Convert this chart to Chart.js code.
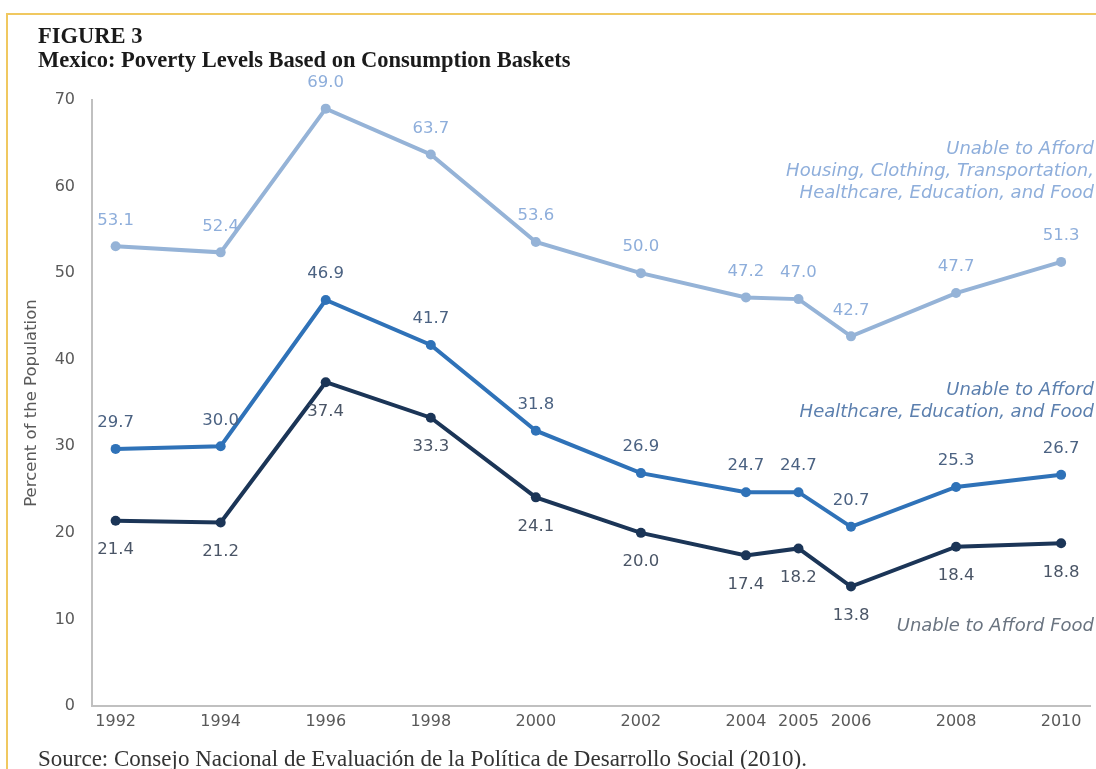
<!DOCTYPE html>
<html>
<head>
<meta charset="utf-8">
<script src="https://cdn.jsdelivr.net/npm/chart.js@4.4.1/dist/chart.umd.min.js"></script>
<style>
  html, body { margin: 0; padding: 0; background: #fff; }
  #page { position: relative; width: 1096px; height: 769px; overflow: hidden; }
  #frame { position: absolute; left: 6px; top: 13px; width: 1100px; height: 800px;
           border-top: 2px solid #f0c860; border-left: 2px solid #f0c860; }
  #chart { position: absolute; left: 0; top: 0; }
  .ttl { position: absolute; left: 38px; font-family: "Liberation Serif", serif; font-weight: bold;
         font-size: 22.5px; color: #1a1a1a; white-space: nowrap; }
  .src { position: absolute; left: 38px; top: 746px; font-family: "Liberation Serif", serif;
         font-size: 23px; color: #333; white-space: nowrap; }
  .note { position: absolute; right: 2px; font-family: "DejaVu Sans", sans-serif; font-style: italic;
          font-size: 18px; line-height: 22px; text-align: right; white-space: nowrap; }
</style>
</head>
<body>
<div id="page">
  <div id="frame"></div>
  <canvas id="chart" width="1096" height="769"></canvas>
  <div class="ttl" style="top:23px;">FIGURE 3</div>
  <div class="ttl" style="top:47px;">Mexico: Poverty Levels Based on Consumption Baskets</div>
  <div class="note" style="top:137px; color:#8eaedb;">Unable to Afford<br>Housing, Clothing, Transportation,<br>Healthcare, Education, and Food</div>
  <div class="note" style="top:378px; color:#5b7fae;">Unable to Afford<br>Healthcare, Education, and Food</div>
  <div class="note" style="top:614px; color:#6a7480;">Unable to Afford Food</div>
  <div class="src">Source: Consejo Nacional de Evaluación de la Política de Desarrollo Social (2010).</div>
</div>
<script>
// años y porcentajes
const years = [1992, 1994, 1996, 1998, 2000, 2002, 2004, 2005, 2006, 2008, 2010];
const allBasics = [53.1, 52.4, 69.0, 63.7, 53.6, 50.0, 47.2, 47.0, 42.7, 47.7, 51.3];
const capabilities = [29.7, 30.0, 46.9, 41.7, 31.8, 26.9, 24.7, 24.7, 20.7, 25.3, 26.7];
const food = [21.4, 21.2, 37.4, 33.3, 24.1, 20.0, 17.4, 18.2, 13.8, 18.4, 18.8];
const yTicks = [0, 10, 20, 30, 40, 50, 60, 70];

const toPoints = arr => arr.map((v, i) => ({ x: years[i], y: v }));

// dibuja los valores encima o debajo de cada punto
const valueLabels = {
    id: 'valueLabels',
    afterDatasetsDraw(chart) {
        const ctx = chart.ctx;
        ctx.save();
        ctx.font = '16.5px "DejaVu Sans"';
        ctx.textAlign = 'center';
        ctx.textBaseline = 'middle';
        chart.data.datasets.forEach((ds, i) => {
            const meta = chart.getDatasetMeta(i);
            ctx.fillStyle = ds.labelColor;
            meta.data.forEach((pt, j) => {
                const dy = ds.labelBelow ? 29 : -26;
                ctx.fillText(ds.data[j].y.toFixed(1), pt.x, pt.y + dy);
            });
        });
        ctx.restore();
    }
};

new Chart(document.getElementById('chart'), {
    type: 'line',
    data: {
        datasets: [
            {
                data: toPoints(allBasics),
                borderColor: '#95b3d7', backgroundColor: '#95b3d7',
                labelColor: '#8eaedb', labelBelow: false
            },
            {
                data: toPoints(capabilities),
                borderColor: '#2f72b8', backgroundColor: '#2f72b8',
                labelColor: '#4b6282', labelBelow: false
            },
            {
                data: toPoints(food),
                borderColor: '#1b3557', backgroundColor: '#1b3557',
                labelColor: '#4a5566', labelBelow: true
            }
        ]
    },
    options: {
        responsive: false,
        animation: false,
        elements: {
            line: { borderWidth: 4, tension: 0 },
            point: { radius: 5, borderWidth: 0, hoverRadius: 5 }
        },
        layout: { padding: { left: 18, top: 100, right: 6, bottom: 33 } },
        plugins: { legend: { display: false }, tooltip: { enabled: false } },
        scales: {
            x: {
                type: 'linear',
                min: 1991.55, max: 2010.55,
                afterBuildTicks: s => { s.ticks = years.map(v => ({ value: v })); },
                afterFit: s => { s.height = 30; },
                grid: { display: false, drawTicks: false },
                border: { display: true, color: '#c0c0c0', width: 2 },
                ticks: {
                    autoSkip: false, maxRotation: 0, padding: 6,
                    color: '#595959', font: { family: 'DejaVu Sans', size: 16 },
                    callback: v => String(v)
                }
            },
            y: {
                min: 0, max: 70,
                afterBuildTicks: s => { s.ticks = yTicks.map(v => ({ value: v })); },
                afterFit: s => { s.width = 74; },
                grid: { display: false, drawTicks: false },
                border: { display: true, color: '#c0c0c0', width: 2 },
                ticks: {
                    padding: 17, color: '#595959',
                    font: { family: 'DejaVu Sans', size: 16 }
                },
                title: {
                    display: true, text: 'Percent of the Population',
                    color: '#595959', font: { family: 'DejaVu Sans', size: 16.5 },
                    padding: { top: 4, bottom: 0 }
                }
            }
        }
    },
    plugins: [valueLabels]
});
</script>
</body>
</html>
